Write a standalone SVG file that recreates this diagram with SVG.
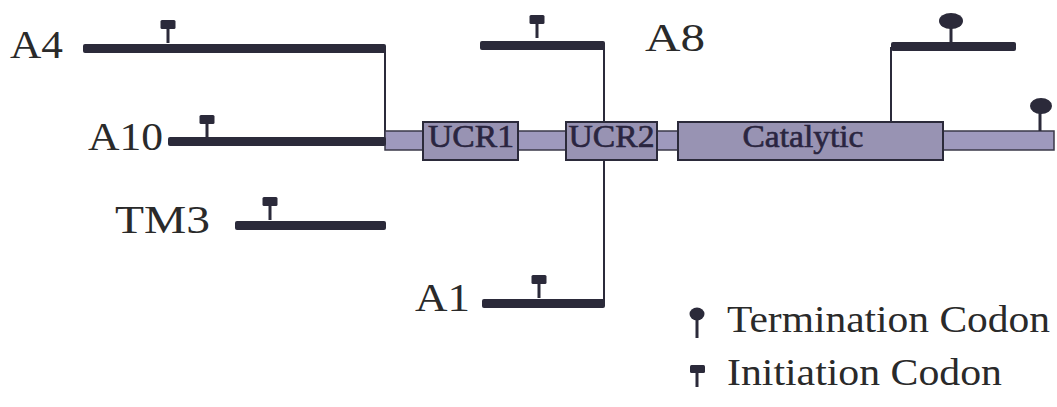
<svg xmlns="http://www.w3.org/2000/svg" width="1057" height="407" viewBox="0 0 1057 407">
<style>
text{font-family:'Liberation Serif',serif}
.lbl{fill:#2a2a2a}
.bar{fill:#2b2a3a}
.conn{stroke:#2b2a3a;stroke-width:2;fill:none}
.dom{fill:#9893b3;stroke:#2b2a3a;stroke-width:2}
.main{fill:#9e99bd;stroke:#3a3848;stroke-width:1.5}
.dlbl{fill:#2a2540;stroke:#2a2540;stroke-width:0.6;font-size:31px}
</style>
<defs>
<g id="init"><rect x="-7.5" y="0" width="15" height="9" rx="1.5" fill="#2b2a3a"/><rect x="-1.5" y="8" width="3" height="15" fill="#2b2a3a"/></g>
</defs>
<rect width="1057" height="407" fill="#fff"/>
<g id="connectors">
<line class="conn" x1="385" y1="48" x2="385" y2="140"/>
<line class="conn" x1="604" y1="46" x2="604" y2="304"/>
<line class="conn" x1="891" y1="47" x2="891" y2="122"/>
</g>
<g id="main">
<rect class="main" x="385" y="131" width="669" height="19"/>
<line x1="1040" y1="108" x2="1040" y2="131" stroke="#2b2a3a" stroke-width="3"/>
<ellipse cx="1041" cy="106" rx="11" ry="8" fill="#2b2a3a"/>
</g>
<g id="ucr1"><rect class="dom" x="423" y="122" width="95" height="38"/><text class="dlbl" x="471" y="147" text-anchor="middle" textLength="86" lengthAdjust="spacingAndGlyphs">UCR1</text></g>
<g id="ucr2"><rect class="dom" x="566" y="122" width="91" height="38"/><text class="dlbl" x="611.5" y="147" text-anchor="middle" textLength="86" lengthAdjust="spacingAndGlyphs">UCR2</text></g>
<g id="catalytic"><rect class="dom" x="678" y="122" width="265" height="38"/><text class="dlbl" x="803" y="147" text-anchor="middle" textLength="121" lengthAdjust="spacingAndGlyphs">Catalytic</text></g>
<g id="A4">
<text class="lbl" x="10" y="58" font-size="41" textLength="53" lengthAdjust="spacingAndGlyphs">A4</text>
<rect class="bar" x="83" y="44" width="303" height="9" rx="2"/>
<use href="#init" x="168" y="20"/>
</g>
<g id="A10">
<text class="lbl" x="88" y="150" font-size="41" textLength="75" lengthAdjust="spacingAndGlyphs">A10</text>
<rect class="bar" x="168" y="137" width="218" height="9" rx="2"/>
<use href="#init" x="207" y="115"/>
</g>
<g id="TM3">
<text class="lbl" x="115" y="233" font-size="39" textLength="95" lengthAdjust="spacingAndGlyphs">TM3</text>
<rect class="bar" x="235" y="221" width="151" height="9" rx="2"/>
<use href="#init" x="270" y="197"/>
</g>
<g id="A8">
<text class="lbl" x="645" y="51" font-size="40" textLength="60" lengthAdjust="spacingAndGlyphs">A8</text>
<rect class="bar" x="480" y="41" width="125" height="9" rx="2"/>
<use href="#init" x="537" y="15"/>
</g>
<g id="A1">
<text class="lbl" x="415" y="311" font-size="39" textLength="55" lengthAdjust="spacingAndGlyphs">A1</text>
<rect class="bar" x="482" y="299" width="123" height="9" rx="2"/>
<use href="#init" x="539" y="275"/>
</g>
<g id="term-bar">
<rect class="bar" x="891" y="42" width="125" height="9" rx="2"/>
<line x1="951" y1="24" x2="951" y2="42" stroke="#2b2a3a" stroke-width="3"/>
<ellipse cx="951" cy="21" rx="12" ry="8" fill="#2b2a3a"/>
</g>
<g id="legend">
<ellipse cx="697" cy="314" rx="7.5" ry="6.5" fill="#2b2a3a"/>
<rect x="695.5" y="318" width="3" height="20" fill="#2b2a3a"/>
<text class="lbl" x="727" y="332" font-size="37" textLength="323" lengthAdjust="spacingAndGlyphs">Termination Codon</text>
<rect x="690" y="365" width="15" height="8" rx="1.5" fill="#2b2a3a"/>
<rect x="695.5" y="371" width="3" height="16" fill="#2b2a3a"/>
<text class="lbl" x="727" y="385" font-size="37" textLength="275" lengthAdjust="spacingAndGlyphs">Initiation Codon</text>
</g>
</svg>
